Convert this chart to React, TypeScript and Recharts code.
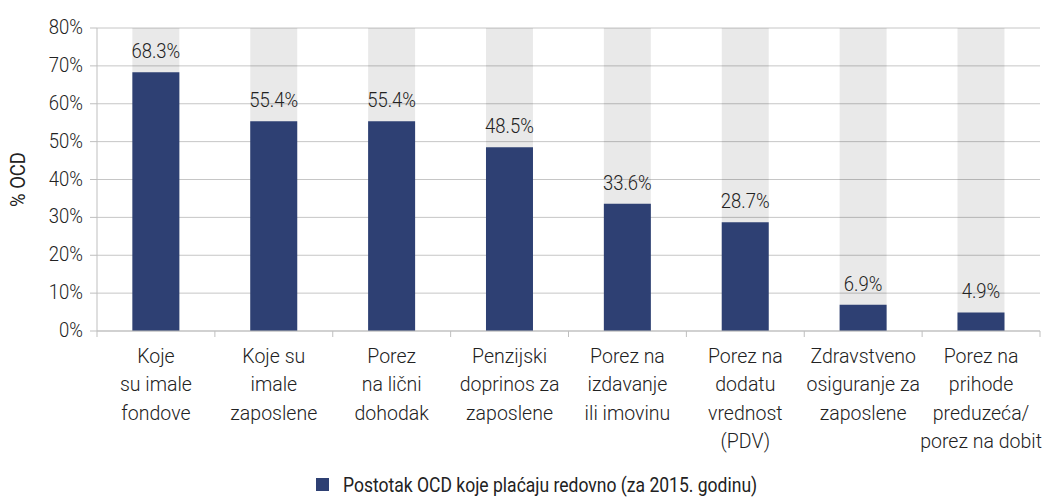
import React from "react";
import { BarChart, Bar, XAxis, YAxis, CartesianGrid, LabelList, Legend, Label } from "recharts";

const categories = [
  "Koje\nsu imale\nfondove",
  "Koje su\nimale\nzaposlene",
  "Porez\nna lični\ndohodak",
  "Penzijski\ndoprinos za\nzaposlene",
  "Porez na\nizdavanje\nili imovinu",
  "Porez na\ndodatu\nvrednost\n(PDV)",
  "Zdravstveno\nosiguranje za\nzaposlene",
  "Porez na\nprihode\npreduzeća/\nporez na dobit",
];
const values = [68.3, 55.4, 55.4, 48.5, 33.6, 28.7, 6.9, 4.9];
const yTicks = [0, 10, 20, 30, 40, 50, 60, 70, 80];
const seriesName = "Postotak OCD koje plaćaju redovno (za 2015. godinu)";
const yTitle = "% OCD";

const data = categories.map((name, i) => ({ name, value: values[i] }));

const FONT = "Roboto, 'Noto Sans', sans-serif";
const SIZE = 21;
const TEXT = "#222";
const NAVY = "#2E4073";
const AXIS = "#BFBFBF";

// condensed-looking text: real text, squeezed horizontally
const Narrow = ({ x, y, anchor = "middle", weight = 300, squeeze = 0.88, children, rotate = 0 }: any) => (
  <g transform={`translate(${x},${y}) rotate(${rotate}) scale(${squeeze},1)`}>
    <text x={0} y={0} textAnchor={anchor} fontFamily={FONT} fontSize={SIZE} fontWeight={weight} fill={TEXT}>
      {children}
    </text>
  </g>
);

const XTick = (props: any) => {
  const { x, y, payload, index, visibleTicksCount } = props;
  const half = payload.offset || 58.9;
  const lines = String(payload.value).split("\n");
  return (
    <g>
      <line x1={x - half} x2={x - half} y1={y} y2={y + 6} stroke={AXIS} />
      {index === visibleTicksCount - 1 && (
        <line x1={x + half} x2={x + half} y1={y} y2={y + 6} stroke={AXIS} />
      )}
      {lines.map((l, i) => (
        <Narrow key={i} x={x} y={y + 32 + i * 28.3} squeeze={0.93}>
          {l}
        </Narrow>
      ))}
    </g>
  );
};

const YTick = (props: any) => {
  const { x, y, payload } = props;
  return (
    <Narrow x={x} y={y + 6} anchor="end">
      {payload.value}%
    </Narrow>
  );
};

const ValueLabel = (props: any) => {
  const { x, y, width, value } = props;
  return (
    <Narrow x={x + width / 2} y={y - 14}>
      {Number(value).toFixed(1)}%
    </Narrow>
  );
};

const LegendBox = () => (
  <svg width={1042} height={30} style={{ display: "block" }}>
    <rect x={316} y={9} width={13} height={13} fill={NAVY} />
    <Narrow x={343} y={23} anchor="start" weight={400} squeeze={0.835}>
      {seriesName}
    </Narrow>
  </svg>
);

export default function App() {
  return (
    <div style={{ position: "absolute", left: 0, top: 0, background: "#fff" }}>
      <BarChart
        width={1042}
        height={499}
        data={data}
        margin={{ top: 28, right: 2, left: 0, bottom: 0 }}
        barCategoryGap="30%"
      >
        <CartesianGrid vertical={false} stroke="#C6C6C6" />
        <XAxis
          dataKey="name"
          interval={0}
          height={138}
          tickSize={0}
          tickMargin={0}
          tickLine={false}
          axisLine={{ stroke: AXIS }}
          tick={<XTick />}
        />
        <YAxis
          width={97}
          domain={[0, 80]}
          ticks={yTicks}
          interval={0}
          tickSize={7}
          tickMargin={7}
          tickLine={{ stroke: AXIS }}
          axisLine={{ stroke: AXIS }}
          tick={<YTick />}
        >
          <Label
            content={() => (
              <Narrow x={25} y={179.5} rotate={-90} weight={400}>
                {yTitle}
              </Narrow>
            )}
          />
        </YAxis>
        <Legend verticalAlign="bottom" height={30} content={<LegendBox />} />
        <Bar
          dataKey="value"
          name={seriesName}
          fill={NAVY}
          background={{ fill: "#000", fillOpacity: 0.085 }}
          isAnimationActive={false}
        >
          <LabelList dataKey="value" content={<ValueLabel />} />
        </Bar>
      </BarChart>
    </div>
  );
}
